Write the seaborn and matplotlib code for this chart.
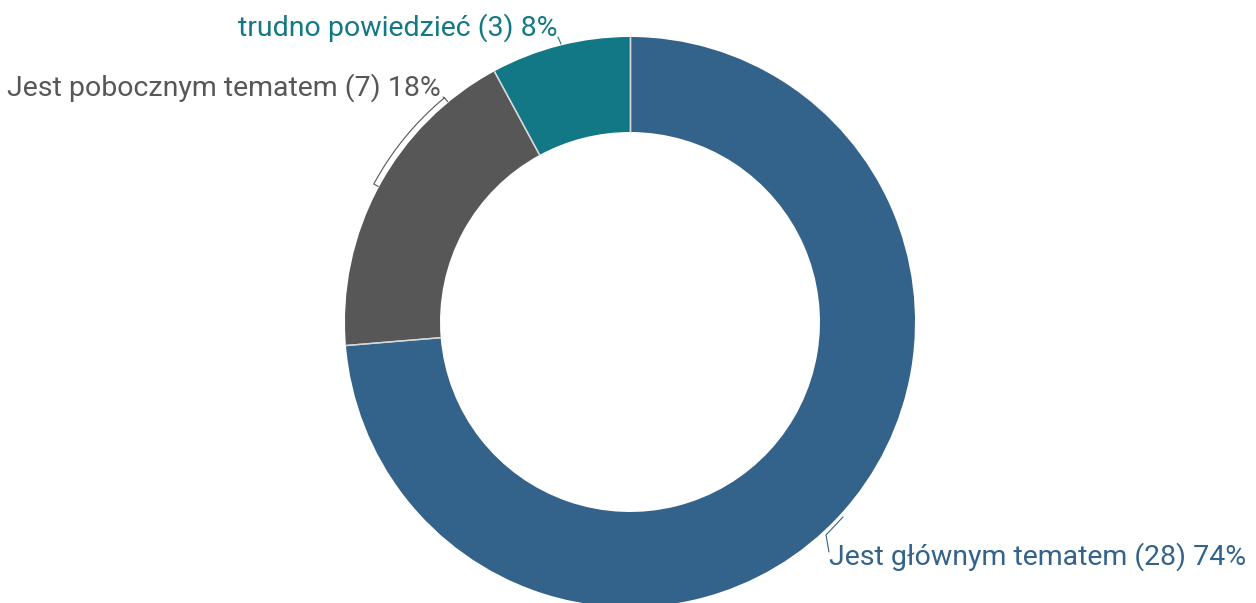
import numpy as np
import matplotlib
matplotlib.use("Agg")
import matplotlib.pyplot as plt
import seaborn as sns

categories = ["Jest głównym tematem", "Jest pobocznym tematem", "trudno powiedzieć"]
counts = [28, 7, 3]
percents = [74, 18, 8]
colors = ["#33628b", "#575757", "#137886"]

sns.set_theme(style="white")
plt.rcParams["font.family"] = ["Roboto", "DejaVu Sans"]

W, H = 1256, 603
fig = plt.figure(figsize=(W / 100, H / 100), dpi=100)
ax = fig.add_axes([0, 0, 1, 1])

cx, cy, R, wd = 630, H - 322, 285, 95
wedges, _ = ax.pie(counts, colors=colors, startangle=90, counterclock=False,
                   radius=R, center=(cx, cy), frame=True,
                   wedgeprops=dict(width=wd, linewidth=0))
ax.set_xlim(0, W)
ax.set_ylim(0, H)
ax.set_aspect("equal")
ax.axis("off")

def pt(angle_deg, r):
    a = np.deg2rad(angle_deg)
    return cx + r * np.cos(a), cy + r * np.sin(a)

# separators between slices
for w in wedges:
    a = w.theta2 if True else w.theta1
    for ang in (w.theta1, w.theta2):
        p0 = pt(ang, R - wd)
        p1 = pt(ang, R)
        ax.plot([p0[0], p1[0]], [p0[1], p1[1]], color="#d8d8d8", lw=1)

# gray leader bracket
angs = np.linspace(129.6, 151.7, 40)
xs, ys = zip(*[pt(a, 291) for a in angs])
x0, y0 = pt(129.6, 286)
x1, y1 = pt(151.7, 286)
ax.plot([x0] + list(xs) + [x1], [y0] + list(ys) + [y1], color="#575757", lw=0.8)
ax.plot([xs[0], 443], [ys[0], H - 97], color="#575757", lw=0.8)

# blue leader
bx = [843, 826, 829]
by = [H - 517, H - 535, H - 552]
ax.plot(bx, by, color="#33628b", lw=0.8)

# teal leader
ax.plot([558, 561], [H - 37, H - 44], color="#137886", lw=0.8)

fs = 20.5
ax.text(829, H - 557, f"{categories[0]} ({counts[0]}) {percents[0]}%", color=colors[0],
        fontsize=fs, ha="left", va="center")
ax.text(441, H - 88, f"{categories[1]} ({counts[1]}) {percents[1]}%", color=colors[1],
        fontsize=fs, ha="right", va="center")
ax.text(557, H - 28, f"{categories[2]} ({counts[2]}) {percents[2]}%", color=colors[2],
        fontsize=fs, ha="right", va="center")

fig.savefig("out.png", dpi=100)
